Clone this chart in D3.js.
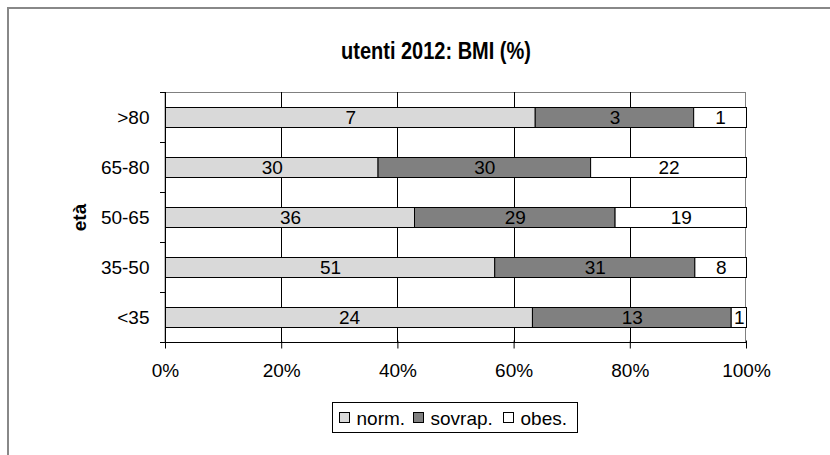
<!DOCTYPE html>
<html>
<head>
<meta charset="utf-8">
<script src="https://cdn.jsdelivr.net/npm/d3@7"></script>
<style>
  body { margin: 0; background: #fff; }
  svg text { font-family: "Liberation Sans", Arial, sans-serif; fill: #000; }
</style>
</head>
<body>
<div id="chart"></div>
<script>
// dati
const categories = [">80", "65-80", "50-65", "35-50", "<35"];
const seriesNames = ["norm.", "sovrap.", "obes."];
const norm = [7, 30, 36, 51, 24];
const sovrap = [3, 30, 29, 31, 13];
const obes = [1, 22, 19, 8, 1];
const xTicks = [0, 0.2, 0.4, 0.6, 0.8, 1];
const colors = ["#d9d9d9", "#808080", "#ffffff"];

const W = 830, H = 455;
const FS = "19px";
const svg = d3.select("#chart").append("svg").attr("width", W).attr("height", H);

// cornice esterna
svg.append("rect").attr("x", 8).attr("y", 8).attr("width", W).attr("height", H)
  .attr("fill", "none").attr("stroke", "#888").attr("stroke-width", 2);

const plot = { left: 165, right: 746, top: 92, bottom: 342 };

const x = d3.scaleLinear().domain([0, 1]).range([plot.left, plot.right]);
const y = d3.scaleBand().domain(categories).range([plot.top, plot.bottom]).paddingInner(0.6).paddingOuter(0.3);
const yBand = d3.scaleBand().domain(categories).range([plot.top, plot.bottom]);

// righe per la stack
const rows = categories.map((c, i) => {
  const total = norm[i] + sovrap[i] + obes[i];
  return { cat: c, "norm.": norm[i] / total, "sovrap.": sovrap[i] / total, "obes.": obes[i] / total,
           raw: { "norm.": norm[i], "sovrap.": sovrap[i], "obes.": obes[i] } };
});
const stack = d3.stack().keys(seriesNames)(rows);

// bordo area grafico
svg.append("rect").attr("x", plot.left).attr("y", plot.top + 0.5)
  .attr("width", plot.right - plot.left - 0.5).attr("height", plot.bottom - plot.top)
  .attr("fill", "none").attr("stroke", "#808080");

// griglia verticale
svg.append("g").selectAll("line").data(xTicks.slice(1, -1)).enter().append("line")
  .attr("x1", d => Math.round(x(d)) + 0.5).attr("x2", d => Math.round(x(d)) + 0.5)
  .attr("y1", plot.top).attr("y2", plot.bottom)
  .attr("stroke", "#000");

// barre
const groups = svg.append("g").selectAll("g").data(stack).enter().append("g")
  .attr("fill", (d, i) => colors[i]);

groups.selectAll("rect").data(d => d.map(v => ({ v, key: d.key }))).enter().append("rect")
  .attr("x", d => x(d.v[0]) + 0.5)
  .attr("y", d => y(d.v.data.cat) + 0.5)
  .attr("width", d => x(d.v[1]) - x(d.v[0]))
  .attr("height", y.bandwidth())
  .attr("stroke", "#000").attr("stroke-width", 1);

groups.selectAll("text").data(d => d.map(v => ({ v, key: d.key }))).enter().append("text")
  .attr("x", d => (x(d.v[0]) + x(d.v[1])) / 2 + 1)
  .attr("y", d => y(d.v.data.cat) + y.bandwidth() / 2 + 6.5)
  .attr("text-anchor", "middle")
  .style("font-size", FS)
  .text(d => d.v.data.raw[d.key]);

// asse x
const xAxis = svg.append("g").attr("transform", `translate(0,${plot.bottom + 0.5})`)
  .call(d3.axisBottom(x).tickValues(xTicks).tickFormat(d3.format(".0%")).tickSize(6).tickPadding(15));
xAxis.select(".domain").attr("stroke", "#000").attr("d", `M${plot.left - 5},0H${plot.right}`);
xAxis.selectAll(".tick line").attr("stroke", "#000").attr("y1", -2);
xAxis.selectAll("text").style("font-size", FS).attr("fill", "#000");

// asse y
const yAxis = svg.append("g").attr("transform", `translate(${plot.left + 0.5},0)`)
  .call(d3.axisLeft(yBand).tickSize(0).tickPadding(16));
yAxis.select(".domain").attr("stroke", "#000").attr("d", `M0,${plot.top}V${plot.bottom}`);
yAxis.selectAll("text").style("font-size", FS).attr("fill", "#000").attr("dy", "0.35em");
svg.append("g").selectAll("line").data(d3.range(categories.length)).enter().append("line")
  .attr("x1", plot.left - 5).attr("x2", plot.left)
  .attr("y1", d => plot.top + d * yBand.step() + 0.5).attr("y2", d => plot.top + d * yBand.step() + 0.5)
  .attr("stroke", "#000");

// titoli
svg.append("text").attr("transform", "translate(436,59) scale(1,1.22)").attr("text-anchor", "middle")
  .style("font-size", "20px").style("font-weight", "bold").text("utenti 2012: BMI (%)");
svg.append("text").attr("transform", "translate(86,217.5) rotate(-90)").attr("text-anchor", "middle")
  .style("font-size", FS).style("font-weight", "bold").text("età");

// legenda
const leg = svg.append("g").attr("transform", "translate(332.5,402.5)");
leg.append("rect").attr("width", 245).attr("height", 30).attr("fill", "#fff").attr("stroke", "#000");
const legX = [7, 81, 171];
seriesNames.forEach((s, i) => {
  leg.append("rect").attr("x", legX[i]).attr("y", 10).attr("width", 10).attr("height", 10)
    .attr("fill", colors[i]).attr("stroke", "#000");
  leg.append("text").attr("x", legX[i] + 17).attr("y", 22).style("font-size", FS).text(s);
});
</script>
</body>
</html>
